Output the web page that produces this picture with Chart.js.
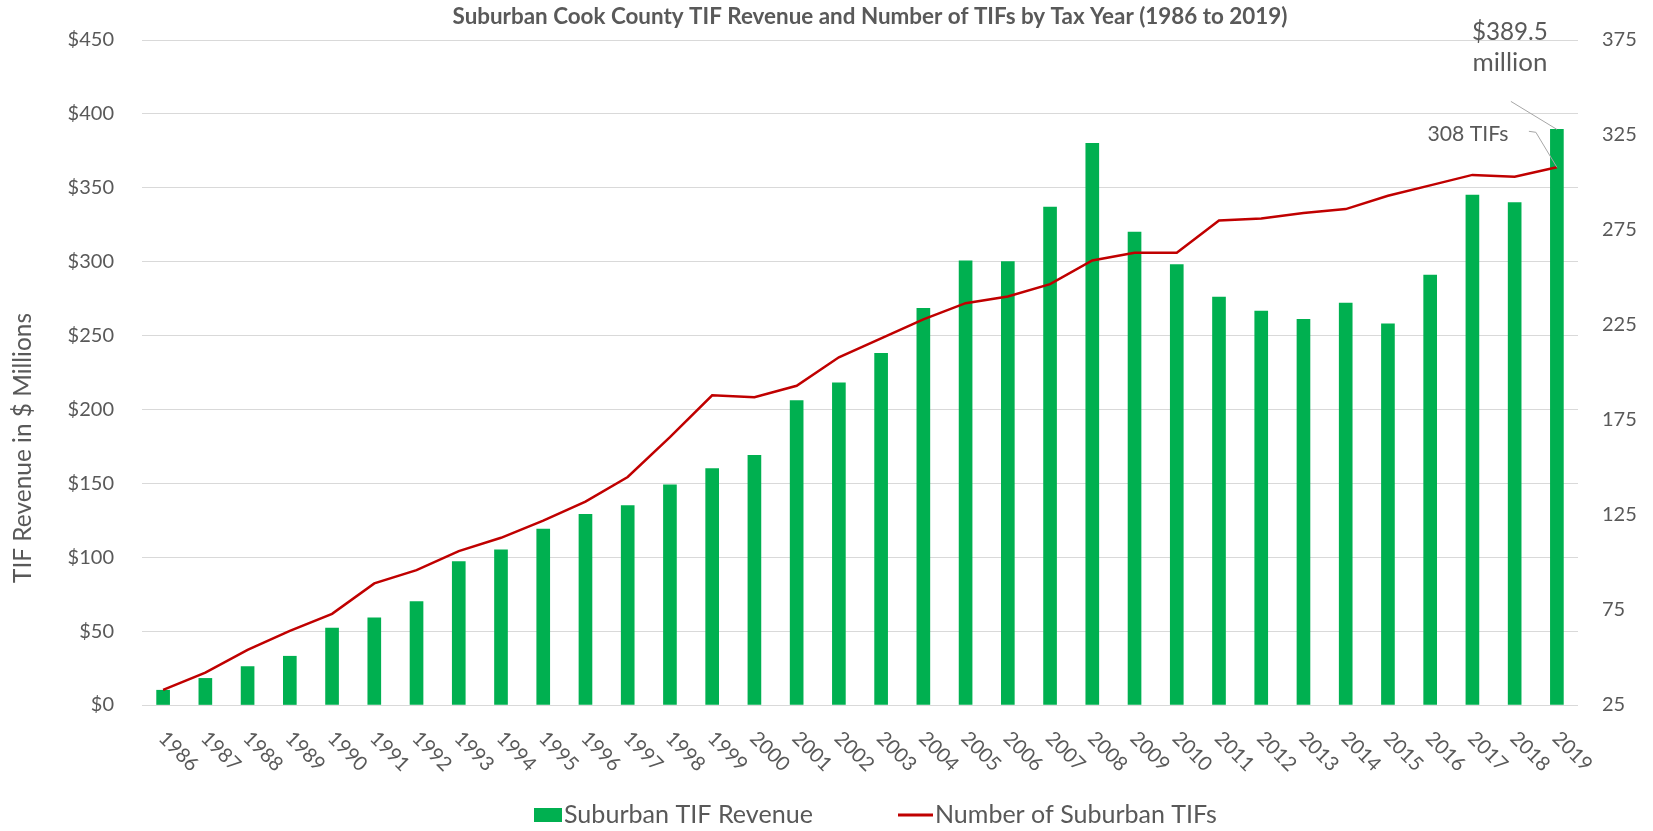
<!DOCTYPE html>
<html><head><meta charset="utf-8">
<script src="https://cdn.jsdelivr.net/npm/chart.js@4"></script>
<style>html,body{margin:0;padding:0;background:#fff}#wrap{width:1653px;height:831px;position:relative}</style>
</head><body><div id="wrap"><canvas id="c" width="1653" height="831" style="width:1653px;height:831px"></canvas></div>
<script>
const years = ["1986","1987","1988","1989","1990","1991","1992","1993","1994","1995","1996","1997","1998","1999","2000","2001","2002","2003","2004","2005","2006","2007","2008","2009","2010","2011","2012","2013","2014","2015","2016","2017","2018","2019"];
const revenue = [10,18,26,33,52,59,70,97,105,119,129,135,149,160,169,206,218,238,268.5,300.5,300,337,380,320,298,276,266.5,261,272,258,291,345,340,389.5];
const tifCount = [33,42,54,64,73,89,96,106,113,122,132,145,166,188,187,193,208,218,228,236.5,240,246.5,259,263,263,280,281,284,286,293,298.5,304,303,308];
const leftTicks = [0,50,100,150,200,250,300,350,400,450];
const rightTicks = [25,75,125,175,225,275,325,375];
const chartTitle = "Suburban Cook County TIF Revenue and Number of TIFs by Tax Year (1986 to 2019)";
const yAxisTitle = "TIF Revenue in $ Millions";
const seriesNames = ["Suburban TIF Revenue","Number of Suburban TIFs"];
const annotRevenue = ["$389.5","million"];
const annotCount = "308 TIFs";

const FAM = "Lato, 'Noto Sans', sans-serif";
const GREY = "#595959";
const GREEN = "#00b050";
const RED = "#c00000";

function fitFont(ctx, text, weight, targetW) {
  ctx.font = weight + " 100px " + FAM;
  const w = ctx.measureText(text).width;
  return weight + " " + (100 * targetW / w).toFixed(2) + "px " + FAM;
}

const overlay = {
  id: "overlay",
  afterDraw(chart) {
    const ctx = chart.ctx;
    const xs = chart.scales.x, ys = chart.scales.y, y1 = chart.scales.y1;
    ctx.save();
    ctx.fillStyle = GREY;
    // title
    ctx.font = fitFont(ctx, chartTitle, "bold", 835);
    ctx.textAlign = "center"; ctx.textBaseline = "middle";
    ctx.fillText(chartTitle, 870, 17);
    // y axis title
    ctx.save();
    ctx.translate(23, 448);
    ctx.rotate(-Math.PI / 2);
    ctx.font = fitFont(ctx, yAxisTitle, "normal", 270);
    ctx.fillText(yAxisTitle, 0, 0);
    ctx.restore();
    // x labels rotated clockwise
    ctx.font = "normal 20px " + FAM;
    ctx.textAlign = "left"; ctx.textBaseline = "middle";
    years.forEach((yr, i) => {
      const px = xs.getPixelForValue(i);
      ctx.save();
      ctx.translate(px - 1, 735);
      ctx.rotate(Math.PI / 4);
      ctx.fillText(yr, 0, 0);
      ctx.restore();
    });
    // legend
    ctx.fillStyle = GREEN;
    ctx.fillRect(534, 808, 28, 14);
    ctx.fillStyle = GREY;
    ctx.font = fitFont(ctx, seriesNames[0], "normal", 249);
    ctx.textAlign = "left"; ctx.textBaseline = "middle";
    ctx.fillText(seriesNames[0], 564, 815);
    ctx.strokeStyle = RED; ctx.lineWidth = 3;
    ctx.beginPath(); ctx.moveTo(898, 815); ctx.lineTo(933, 815); ctx.stroke();
    ctx.font = fitFont(ctx, seriesNames[1], "normal", 282);
    ctx.fillText(seriesNames[1], 935, 815);
    // annotations
    const last = years.length - 1;
    const bx = xs.getPixelForValue(last);
    const by = ys.getPixelForValue(revenue[last]);
    const ly = y1.getPixelForValue(tifCount[last]);
    ctx.strokeStyle = "#a6a6a6"; ctx.lineWidth = 1;
    ctx.beginPath(); ctx.moveTo(bx - 46, by - 28); ctx.lineTo(bx, by); ctx.stroke();
    ctx.beginPath(); ctx.moveTo(bx - 28, ly - 36); ctx.lineTo(bx - 21, ly - 35); ctx.lineTo(bx, ly); ctx.stroke();
    ctx.textAlign = "center";
    ctx.font = fitFont(ctx, annotRevenue[0], "normal", 76);
    ctx.fillText(annotRevenue[0], bx - 47, 32);
    ctx.font = fitFont(ctx, annotRevenue[1], "normal", 75);
    ctx.fillText(annotRevenue[1], bx - 47, 63);
    ctx.font = fitFont(ctx, annotCount, "normal", 81);
    ctx.fillText(annotCount, bx - 89, 134);
    ctx.restore();
  }
};

const tickFont = { family: FAM, size: 20 };

new Chart(document.getElementById("c"), {
  data: {
    labels: years,
    datasets: [
      { type: "line", label: seriesNames[1], data: tifCount, yAxisID: "y1", borderColor: RED, backgroundColor: RED, borderWidth: 2.5, pointRadius: 0, tension: 0, order: 1 },
      { type: "bar", label: seriesNames[0], data: revenue, yAxisID: "y", backgroundColor: GREEN, barThickness: 13, order: 2 }
    ]
  },
  options: {
    responsive: false,
    animation: false,
    layout: { padding: { top: 39, left: 0, right: 0, bottom: 0 } },
    plugins: { legend: { display: false }, tooltip: { enabled: false }, title: { display: false } },
    scales: {
      x: {
        type: "category",
        grid: { display: false },
        border: { display: false },
        ticks: { display: false },
        afterFit(s) { s.height = 126; }
      },
      y: {
        position: "left", min: 0, max: 450,
        afterBuildTicks(s) { s.ticks = leftTicks.map(v => ({ value: v })); },
        ticks: { color: GREY, font: tickFont, padding: 28, callback: v => "$" + v },
        grid: { color: "#d9d9d9", lineWidth: 1, drawTicks: false },
        border: { display: false },
        afterFit(s) { s.width = 142; }
      },
      y1: {
        position: "right", min: 25, max: 375,
        afterBuildTicks(s) { s.ticks = rightTicks.map(v => ({ value: v })); },
        ticks: { color: GREY, font: tickFont, padding: 24 },
        grid: { display: false, drawTicks: false },
        border: { display: false },
        afterFit(s) { s.width = 75; }
      }
    }
  },
  plugins: [overlay]
});
</script>
</body></html>
